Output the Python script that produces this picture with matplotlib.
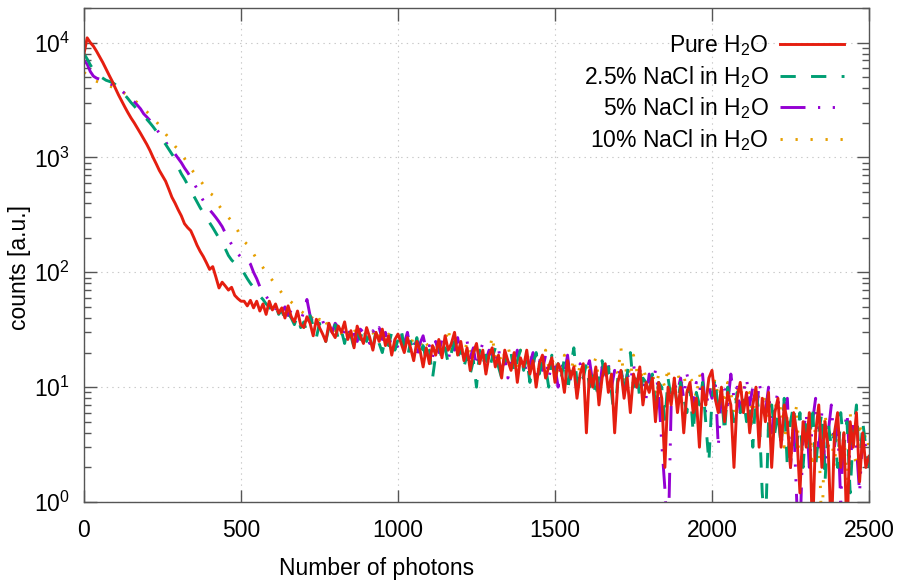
import matplotlib
matplotlib.use("Agg")
import matplotlib.pyplot as plt
import numpy as np
from matplotlib.ticker import LogLocator, NullFormatter

plt.rcParams['font.family'] = ['Liberation Sans', 'DejaVu Sans']
plt.rcParams['mathtext.fontset'] = 'custom'
plt.rcParams['mathtext.rm'] = 'Liberation Sans'
plt.rcParams['mathtext.it'] = 'Liberation Sans:italic'
plt.rcParams['lines.scale_dashes'] = False

photons = list(range(0, 2501, 10))

pure_h2o = [
    8000, 11000, 10000, 9300, 8400, 7500, 6700, 5900, 5200, 4600,
    4000, 3500, 3100, 2750, 2450, 2200, 2000, 1800, 1620, 1450,
    1300, 1150, 1000, 880, 770, 690, 620, 530, 450, 400,
    350, 310, 265, 245, 230, 200, 172, 152, 137, 121,
    106, 112, 91, 73, 82, 76, 70, 74, 63, 59,
    56, 56, 51, 57, 49, 56, 46, 53, 43, 56,
    47, 53, 44, 49, 40, 51, 41, 37, 46, 35,
    33, 41, 36, 28, 39, 33, 29, 25, 36, 30,
    27, 34, 30, 37, 26, 31, 22, 34, 28, 24,
    33, 27, 21, 30, 25, 32, 23, 28, 19, 26,
    29, 24, 20, 27, 22, 17, 25, 21, 15, 22,
    16, 23, 19, 26, 18, 28, 21, 24, 30, 19,
    25, 17, 22, 14, 20, 24, 16, 21, 13, 19,
    22, 15, 19, 12, 21, 17, 14, 20, 11, 18,
    15, 21, 13, 17, 10, 16, 19, 12, 15, 18,
    11, 16, 14, 9, 17, 12, 15, 8, 13, 16,
    4, 14, 10, 15, 7, 12, 16, 9, 13, 4,
    11, 14, 8, 12, 6, 13, 10, 15, 7, 11,
    9, 12, 5, 11, 8, 2, 10, 7, 12, 6,
    10, 4, 9, 11, 6, 8, 3, 10, 7, 12,
    14, 8, 6, 10, 5, 9, 7, 2, 8, 11,
    6, 9, 4, 7, 10, 3, 8, 5, 9, 2,
    6, 8, 3, 7, 5, 2, 6, 4, 1.2, 5,
    3, 6, 0.5, 4, 7, 2, 5, 3, 0.5, 4,
    6, 2, 4, 0.5, 5, 3, 6, 1.5, 4, 2,
    2.5]

nacl_2_5 = [
    8000, 7200, 6400, 5800, 5400, 5100, 4900, 4700, 4600, 4500,
    4300, 4000, 3750, 3500, 3250, 3000, 2800, 2600, 2450, 2300,
    2150, 2000, 1850, 1700, 1550, 1420, 1300, 1180, 1070, 970,
    820, 720, 650, 580, 520, 460, 410, 365, 330, 300,
    270, 245, 220, 198, 180, 160, 140, 128, 120, 115,
    110, 98, 88, 80, 74, 70, 62, 58, 53, 50,
    46, 52, 43, 47, 38, 44, 40, 35, 42, 33,
    37, 30, 42, 34, 27, 36, 31, 25, 33, 29,
    35, 26, 31, 24, 33, 28, 22, 30, 26, 34,
    25, 29, 22, 31, 24, 20, 27, 23, 30, 21,
    26, 32, 22, 18, 25, 20, 27, 19, 23, 17,
    21, 12, 19, 24, 17, 22, 16, 20, 25, 18,
    22, 15, 19, 13, 17, 10, 21, 16, 19, 14,
    18, 22, 15, 12, 19, 16, 20, 13, 17, 21,
    14, 18, 11, 16, 20, 13, 17, 15, 10, 19,
    13, 16, 12, 18, 9, 15, 22, 11, 14, 12,
    16, 10, 14, 8, 13, 17, 11, 15, 9, 5,
    12, 15, 9, 13, 20, 10, 14, 8, 12, 11,
    9, 13, 7, 11, 10, 5, 12, 8, 10, 7,
    11, 8, 6, 10, 4, 9, 7, 11, 5, 2.2,
    8, 12, 6, 9, 4, 10, 7, 5, 9, 6,
    8, 5, 7, 3, 9, 6, 1.2, 0.5, 5, 7,
    4, 6, 3, 8, 2, 5, 7, 3, 6, 2,
    5, 3, 7, 2, 4, 6, 1.5, 5, 3, 4,
    2, 6, 3, 5, 1.2, 4, 7, 2, 5, 3,
    2]

nacl_5 = [
    7000, 6500, 5600, 5100, 4900, 4800, 4700, 4500, 4400, 4300,
    4200, 4000, 3800, 3600, 3400, 3200, 3050, 2850, 2650, 2400,
    2250, 2100, 1950, 1780, 1620, 1480, 1360, 1250, 1150, 1070,
    980, 900, 810, 740, 670, 600, 530, 470, 420, 380,
    350, 325, 300, 275, 250, 220, 195, 175, 158, 145,
    135, 132, 128, 118, 100, 88, 75, 68, 62, 56,
    52, 48, 55, 45, 50, 42, 47, 40, 44, 38,
    45, 58, 42, 36, 40, 33, 38, 31, 35, 30,
    36, 33, 28, 31, 27, 34, 29, 25, 32, 30,
    27, 24, 31, 28, 33, 26, 30, 23, 27, 25,
    22, 28, 24, 30, 21, 26, 19, 24, 28, 21,
    23, 18, 25, 20, 26, 22, 17, 24, 21, 27,
    19, 23, 25, 18, 22, 15, 20, 24, 17, 21,
    19, 16, 22, 14, 18, 12, 20, 17, 21, 15,
    18, 13, 16, 20, 11, 17, 14, 19, 12, 16,
    15, 10, 17, 13, 19, 11, 14, 9, 16, 12,
    14, 17, 11, 13, 8, 15, 12, 16, 10, 14,
    12, 15, 9, 13, 11, 16, 10, 14, 12, 8,
    13, 10, 14, 9, 3.2, 1.3, 0.4, 7, 11, 9,
    12, 8, 13, 10, 7, 11, 9, 13, 6, 10,
    8, 12, 3, 9, 11, 7, 13, 8, 10, 6,
    9, 12, 7, 10, 5, 11, 8, 6, 10, 4,
    7, 9, 3, 6, 8, 2, 5, 1, 0.5, 4,
    6, 2, 5, 8, 3, 6, 2, 4, 7, 3,
    5, 1, 4, 6, 2, 5, 3, 1.2, 4, 3,
    2]

nacl_10 = [
    5500, 5200, 4900, 4700, 4600, 4500, 4400, 4300, 4200, 4100,
    4050, 3950, 3800, 3600, 3450, 3300, 3150, 3000, 2800, 2650,
    2500, 2350, 2250, 2050, 1900, 1750, 1600, 1480, 1350, 1250,
    1180, 1080, 980, 880, 800, 740, 680, 630, 580, 530,
    490, 470, 420, 380, 350, 320, 300, 280, 250, 230,
    200, 185, 175, 160, 145, 130, 120, 110, 100, 92,
    85, 78, 72, 66, 62, 58, 55, 52, 48, 46,
    44, 40, 38, 42, 36, 39, 34, 37, 33, 35,
    31, 34, 29, 32, 27, 30, 33, 26, 30, 28,
    32, 27, 30, 25, 28, 31, 24, 29, 26, 23,
    27, 30, 24, 26, 22, 29, 25, 21, 27, 24,
    22, 20, 26, 23, 19, 25, 33, 21, 24, 20,
    23, 19, 25, 21, 18, 24, 20, 17, 22, 19,
    28, 18, 21, 16, 20, 23, 17, 19, 15, 21,
    18, 14, 20, 16, 19, 13, 17, 21, 15, 18,
    14, 17, 12, 19, 15, 13, 18, 11, 16, 14,
    17, 12, 15, 18, 11, 14, 13, 16, 10, 15,
    13, 22, 11, 16, 12, 19, 14, 10, 15, 12,
    11, 14, 9, 13, 12, 10, 15, 8, 12, 14,
    10, 13, 9, 12, 11, 8, 13, 10, 7, 11,
    9, 12, 8, 10, 7, 11, 9, 6, 10, 8,
    11, 7, 9, 5, 10, 8, 6, 9, 4, 7,
    8, 5, 7, 3, 6, 2, 5, 7, 1.5, 4,
    3, 6, 2, 5, 4, 0.5, 6, 3, 4, 2,
    5, 3, 4, 1.5, 6, 3, 2, 5, 3, 4,
    3]

labels = ["Pure H$_2$O", "2.5% NaCl in H$_2$O", "5% NaCl in H$_2$O", "10% NaCl in H$_2$O"]
xticks = [0, 500, 1000, 1500, 2000, 2500]

fig = plt.figure(figsize=(8.99, 5.83), dpi=100)
ax = fig.add_axes([84/899, 1-502/583, 785/899, 494/583])

lw = 2.1
l_or, = ax.plot(photons, nacl_10, color='#e69f00', lw=lw, dashes=(1.6, 9.2), dash_capstyle='butt')
l_pu, = ax.plot(photons, nacl_5, color='#9400d3', lw=lw, dashes=(18, 9, 1.6, 9, 1.6, 9), dash_capstyle='butt')
l_gr, = ax.plot(photons, nacl_2_5, color='#009e73', lw=lw, dashes=(11, 11), dash_capstyle='butt')
l_re, = ax.plot(photons, pure_h2o, color='#e51e10', lw=lw)

ax.set_yscale('log')
ax.set_xlim(0, 2500)
ax.set_ylim(1, 2e4)
ax.set_xticks(xticks)
ax.yaxis.set_major_locator(LogLocator(base=10, numticks=10))
ax.yaxis.set_minor_locator(LogLocator(base=10, subs=np.arange(2, 10), numticks=20))
ax.yaxis.set_minor_formatter(NullFormatter())

ax.tick_params(which='both', direction='in', top=True, right=True, labelsize=16.5, colors='#555555', labelcolor='black')
ax.tick_params(which='major', length=9, width=1)
ax.tick_params(which='minor', length=5, width=1)
ax.tick_params(axis='x', pad=12)
ax.tick_params(axis='y', pad=10)
for s in ax.spines.values():
    s.set_color('#555555')
    s.set_linewidth(1)

ax.grid(True, which='major', color='#c8c8c8', lw=0.8, linestyle=(0, (1, 3)))
ax.set_axisbelow(True)

ax.set_xlabel("Number of photons", fontsize=16.5)
ax.set_ylabel("counts [a.u.]", fontsize=16.5)
ax.xaxis.set_label_coords(0.373, -0.112)
ax.yaxis.set_label_coords(-0.068, 0.474)

leg = ax.legend([l_re, l_gr, l_pu, l_or], labels, loc='upper right', bbox_to_anchor=(0.98, 0.968),
                frameon=False, markerfirst=False, fontsize=16.5, handlelength=2.8,
                handletextpad=0.5, labelspacing=0.25, borderaxespad=0)

fig.savefig("out.png", dpi=100)
